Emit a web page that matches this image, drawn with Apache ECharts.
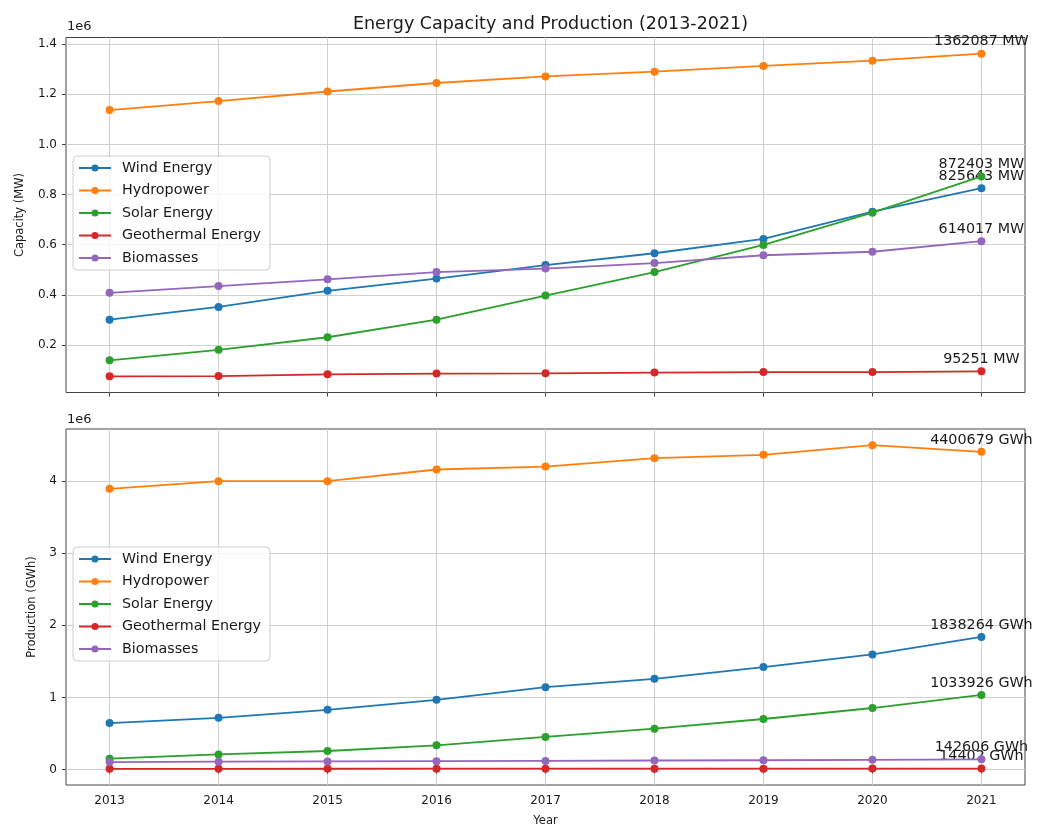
<!DOCTYPE html>
<html>
<head>
<meta charset="utf-8">
<script src="https://cdn.jsdelivr.net/npm/echarts@6/dist/echarts.min.js"></script>
<style>
html,body{margin:0;padding:0;background:#fff;}
#chart{width:1038px;height:827px;}
</style>
</head>
<body>
<div id="chart"></div>
<script>
// ---- data ----
const years = [2013, 2014, 2015, 2016, 2017, 2018, 2019, 2020, 2021];
const seriesNames = ['Wind Energy', 'Hydropower', 'Solar Energy', 'Geothermal Energy', 'Biomasses'];

// Capacity (MW)
const capWind  = [301000, 352000, 416000, 465000, 519000, 566000, 623000, 732000, 825643];
const capHydro = [1137000, 1173000, 1211000, 1245000, 1271000, 1290000, 1313000, 1334000, 1362087];
const capSolar = [139000, 181000, 231000, 301000, 397000, 491000, 599000, 728000, 872403];
const capGeo   = [75000, 76000, 83000, 86000, 87000, 90000, 92000, 92000, 95251];
const capBio   = [408000, 435000, 462000, 491000, 505000, 527000, 558000, 572000, 614017];

// Production (GWh)
const prodWind  = [644000, 717000, 828000, 967000, 1142000, 1258000, 1420000, 1595000, 1838264];
const prodHydro = [3888000, 3994000, 3994000, 4156000, 4197000, 4313000, 4359000, 4493000, 4400679];
const prodSolar = [151000, 211000, 258000, 336000, 452000, 567000, 701000, 853000, 1033926];
const prodGeo   = [11000, 11500, 12000, 12300, 12700, 13100, 13500, 13900, 14402];
const prodBio   = [105000, 110000, 113000, 117000, 121000, 126000, 130000, 135000, 142606];

// tick labels (in units of 1e6)
const capTicks  = [0.2, 0.4, 0.6, 0.8, 1.0, 1.2, 1.4];
const prodTicks = [0, 1, 2, 3, 4];

const colors = ['#1f77b4', '#ff7f0e', '#2ca02c', '#d62728', '#9467bd'];
const capAll  = [capWind, capHydro, capSolar, capGeo, capBio];
const prodAll = [prodWind, prodHydro, prodSolar, prodGeo, prodBio];

// matplotlib-like auto limits (5% margins)
function lim(arrs) {
  const all = [].concat(...arrs);
  const mn = Math.min(...all), mx = Math.max(...all);
  const m = (mx - mn) * 0.05;
  return [mn - m, mx + m];
}
const capLim = lim(capAll);
const prodLim = lim(prodAll);

const FONT = 'DejaVu Sans';
const TXT = '#1a1a1a';
const TICK_FS = 12;
const BIG_FS = 14.3;

function makeSeries(vals, idx, unit, axisIdx) {
  return {
    name: seriesNames[idx],
    type: 'line',
    xAxisIndex: axisIdx,
    yAxisIndex: axisIdx,
    symbol: 'circle',
    symbolSize: 8,
    showSymbol: true,
    color: colors[idx],
    lineStyle: { width: 1.8, color: colors[idx] },
    itemStyle: { color: colors[idx] },
    emphasis: { disabled: true },
    animation: false,
    z: 2 + idx,
    data: years.map((y, i) => {
      const item = { value: [y, vals[i]] };
      if (i === years.length - 1) {
        item.label = {
          show: true,
          position: 'top',
          distance: 1,
          formatter: Math.round(vals[i]) + ' ' + unit,
          fontFamily: FONT,
          fontSize: BIG_FS,
          color: TXT
        };
      }
      return item;
    })
  };
}

const gridCommon = { left: 66, width: 959, show: true, borderColor: '#444', borderWidth: 1,
  backgroundColor: 'transparent', containLabel: false, outerBoundsMode: 'none' };

function xAxisCfg(gridIndex, showLabels) {
  return {
    type: 'value', gridIndex: gridIndex,
    min: 2012.6, max: 2021.4,
    axisLine: { show: false },
    axisTick: { show: true, inside: false, length: 4, lineStyle: { color: '#444' }, customValues: years },
    axisLabel: { show: showLabels, customValues: years, margin: 10, fontFamily: FONT, fontSize: TICK_FS, color: TXT, formatter: v => String(v) },
    splitLine: { show: true, lineStyle: { color: '#d0d0d0', width: 1 } },
    name: showLabels ? 'Year' : '',
    nameLocation: 'middle',
    nameGap: 30,
    nameTextStyle: { fontFamily: FONT, fontSize: 11.5, color: TXT }
  };
}

function yAxisCfg(gridIndex, lims, ticks, digits, name, nameGap) {
  const vals = ticks.map(t => t * 1e6);
  return {
    type: 'value', gridIndex: gridIndex,
    min: lims[0], max: lims[1],
    axisLine: { show: false },
    axisTick: { show: true, inside: false, length: 4, lineStyle: { color: '#444' }, customValues: vals },
    axisLabel: { customValues: vals, margin: 9, fontFamily: FONT, fontSize: TICK_FS, color: TXT,
      formatter: v => (v / 1e6).toFixed(digits) },
    splitLine: { show: true, lineStyle: { color: '#d0d0d0', width: 1 } },
    name: name,
    nameLocation: 'middle',
    nameGap: nameGap,
    nameRotate: 90,
    nameTextStyle: { fontFamily: FONT, fontSize: 11.5, color: TXT }
  };
}

function legendCfg(top) {
  return {
    data: seriesNames,
    orient: 'vertical',
    left: 73,
    top: top,
    itemWidth: 32,
    itemHeight: 9,
    itemGap: 6.5,
    padding: [4, 9, 4, 5],
    backgroundColor: 'rgba(255,255,255,0.8)',
    borderColor: '#cccccc',
    borderWidth: 1,
    borderRadius: 4,
    textStyle: { fontFamily: FONT, fontSize: BIG_FS, lineHeight: 16, color: TXT, padding: [0, 0, 0, 6] },
    selectedMode: false,
    z: 20
  };
}

const option = {
  backgroundColor: '#ffffff',
  animation: false,
  title: {
    text: 'Energy Capacity and Production (2013-2021)',
    left: 545.5,
    textAlign: 'center',
    top: 10,
    textStyle: { fontFamily: FONT, fontSize: 17.5, fontWeight: 'normal', color: TXT }
  },
  grid: [
    Object.assign({ top: 37.5, height: 355 }, gridCommon),
    Object.assign({ top: 429, height: 356 }, gridCommon)
  ],
  xAxis: [xAxisCfg(0, false), xAxisCfg(1, true)],
  yAxis: [
    yAxisCfg(0, capLim, capTicks, 1, 'Capacity (MW)', 40),
    yAxisCfg(1, prodLim, prodTicks, 0, 'Production (GWh)', 26)
  ],
  legend: [legendCfg(156), legendCfg(547)],
  graphic: [
    { type: 'text', left: 67, top: 20, style: { text: '1e6', font: '13px "DejaVu Sans"', fill: TXT } },
    { type: 'text', left: 67, top: 413, style: { text: '1e6', font: '13px "DejaVu Sans"', fill: TXT } }
  ],
  series: [
    ...capAll.map((v, i) => makeSeries(v, i, 'MW', 0)),
    ...prodAll.map((v, i) => makeSeries(v, i, 'GWh', 1))
  ]
};

const chart = echarts.init(document.getElementById('chart'), null, { renderer: 'canvas' });
chart.setOption(option);
</script>
</body>
</html>
